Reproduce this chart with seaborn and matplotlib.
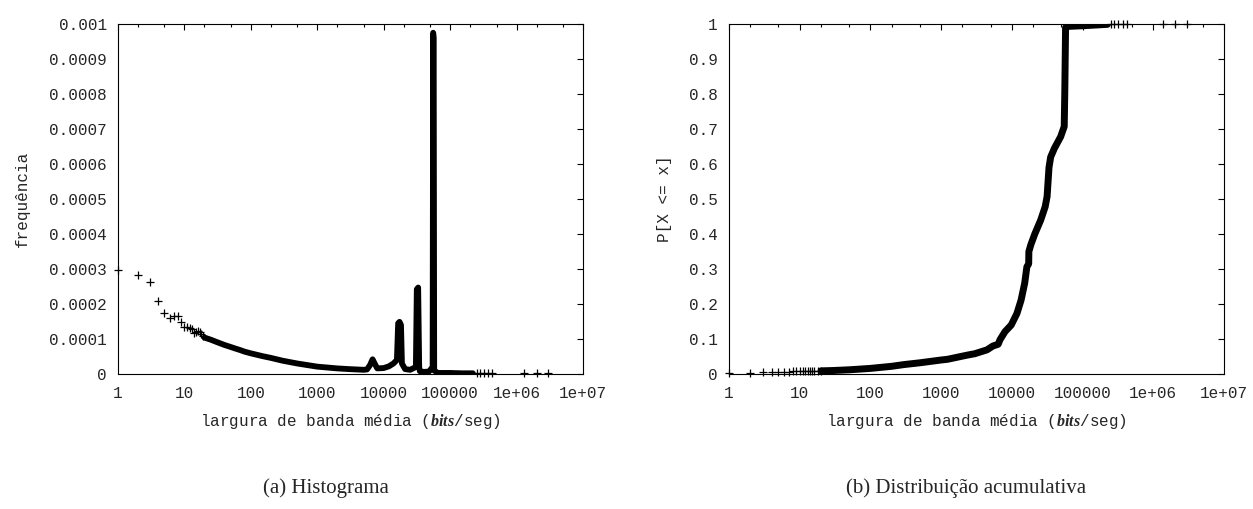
import matplotlib
matplotlib.use("Agg")
import matplotlib.pyplot as plt
import seaborn as sns
from matplotlib.ticker import LogLocator, FixedLocator, FixedFormatter, NullFormatter

# ---------------- data ----------------
# Histogram: isolated points at low rates
hist_lo_x = [1, 2, 3, 4, 5, 6, 7, 8, 9, 10, 11, 12, 13, 14, 15, 16, 17, 18, 19]
hist_lo_y = [0.000297, 0.000283, 0.000264, 0.000210, 0.000173, 0.000161, 0.000166,
             0.000166, 0.000150, 0.000133, 0.000133, 0.000131, 0.000130, 0.000118,
             0.000120, 0.000122, 0.000120, 0.000115, 0.000110]

# Histogram: dense band of points (rate, frequency)
hist_band_x = [20, 25, 30, 40, 50, 60, 70, 80, 100, 150, 200, 300, 500, 1000, 2000,
               3000, 5000, 5600, 6200, 6800, 7300, 8000, 10000, 12000, 14000, 15800,
               16500, 17300, 18200, 18800, 21000, 25000, 30500, 31500, 33000, 34200,
               35000, 40000, 48000, 54500, 55500, 56500, 57500, 65000, 100000, 150000,
               220000]
hist_band_y = [0.000104, 0.000098, 0.000092, 0.000083, 0.000077, 0.000072, 0.000068,
               0.000064, 0.000059, 0.000051, 0.000046, 0.000038, 0.000030, 0.000021,
               0.000016, 0.000014, 0.000012, 0.000013, 0.000025, 0.000042, 0.000030,
               0.000016, 0.000017, 0.000022, 0.000030, 0.000040, 0.000145, 0.000149,
               0.000140, 0.000030, 0.000014, 0.000012, 0.000020, 0.000242, 0.000247,
               0.000020, 0.000008, 0.000006, 0.000007, 0.000020, 0.000975, 0.000960,
               0.000010, 0.000003, 0.000003, 0.000002, 0.000002]

# Histogram: isolated points at high rates
hist_hi_x = [250000, 280000, 320000, 370000, 420000, 1300000, 2000000, 3000000]
hist_hi_y = [0.000002, 0.000002, 0.000002, 0.000002, 0.000002, 0.000002, 0.000002, 0.000002]

# Cumulative distribution: isolated low-rate points
cdf_lo_x = [1, 2, 3, 4, 5, 6, 7, 8, 9, 10, 11, 12, 13, 14, 15, 16, 18, 20]
cdf_lo_y = [0.003, 0.004, 0.005, 0.0055, 0.006, 0.0065, 0.007, 0.0072, 0.0075, 0.0078,
            0.008, 0.0082, 0.0084, 0.0086, 0.0088, 0.009, 0.0092, 0.0095]

# Cumulative distribution: continuous part
cdf_x = [20, 30, 50, 100, 200, 300, 500, 1000, 1230, 2350, 3000, 4450, 5400, 6400,
         6800, 8000, 9800, 11800, 13500, 15200, 16300, 17300, 17400, 18600, 21100,
         25600, 29600, 31500, 33500, 35400, 40000, 49000, 55000, 56000, 57500, 60000,
         100000, 150000, 225000]
cdf_y = [0.009, 0.010, 0.012, 0.016, 0.022, 0.027, 0.032, 0.040, 0.042, 0.054, 0.058,
         0.069, 0.080, 0.085, 0.098, 0.121, 0.140, 0.173, 0.211, 0.260, 0.306, 0.315,
         0.350, 0.370, 0.400, 0.440, 0.478, 0.507, 0.590, 0.620, 0.645, 0.678, 0.707,
         0.800, 0.990, 0.993, 0.995, 0.997, 0.999]

# Cumulative distribution: isolated high-rate points
cdf_hi_x = [250000, 280000, 320000, 370000, 420000, 1350000, 2000000, 3000000]
cdf_hi_y = [1.0, 1.0, 1.0, 1.0, 1.0, 1.0, 1.0, 1.0]

x_ticks = [1, 10, 100, 1000, 10000, 100000, 1e6, 1e7]
x_tick_labels = ["1", "10", "100", "1000", "10000", "100000", "1e+06", "1e+07"]
hist_ticks = [0, 0.0001, 0.0002, 0.0003, 0.0004, 0.0005, 0.0006, 0.0007, 0.0008, 0.0009, 0.001]
hist_tick_labels = ["0", "0.0001", "0.0002", "0.0003", "0.0004", "0.0005", "0.0006",
                    "0.0007", "0.0008", "0.0009", "0.001"]
cdf_ticks = [0, 0.1, 0.2, 0.3, 0.4, 0.5, 0.6, 0.7, 0.8, 0.9, 1]
cdf_tick_labels = ["0", "0.1", "0.2", "0.3", "0.4", "0.5", "0.6", "0.7", "0.8", "0.9", "1"]

xlabel_text = r"largura de banda média ($\mathit{bits}$/seg)"

# ---------------- style ----------------
sns.set_theme(style="white")
plt.rcParams["font.family"] = ["Liberation Mono", "DejaVu Sans Mono"]
plt.rcParams["mathtext.fontset"] = "custom"
plt.rcParams["mathtext.it"] = "Liberation Serif:italic:bold"
plt.rcParams["axes.edgecolor"] = "black"
plt.rcParams["axes.linewidth"] = 0.8

FS = 11.5
fig = plt.figure(figsize=(12.53, 5.09), dpi=100)
fig.patch.set_facecolor("white")

ax1 = fig.add_axes([118 / 1253, 135 / 509, 465 / 1253, 350 / 509])
ax2 = fig.add_axes([729 / 1253, 135 / 509, 495 / 1253, 350 / 509])

mk = dict(marker="+", s=30, color="black", linewidth=0.9, clip_on=False, zorder=3)

# (a) histogram
sns.lineplot(x=hist_band_x, y=hist_band_y, ax=ax1, sort=False, estimator=None,
             color="black", linewidth=4.2, zorder=2)
sns.scatterplot(x=hist_lo_x, y=hist_lo_y, ax=ax1, **mk)
sns.scatterplot(x=hist_hi_x, y=hist_hi_y, ax=ax1, **mk)

# (b) cumulative distribution
sns.lineplot(x=cdf_x, y=cdf_y, ax=ax2, sort=False, estimator=None,
             color="black", linewidth=5.0, zorder=2)
sns.scatterplot(x=cdf_lo_x, y=cdf_lo_y, ax=ax2, **mk)
sns.scatterplot(x=cdf_hi_x, y=cdf_hi_y, ax=ax2, **mk)


def style_axis(ax, yticks, ylabels, ylabel, ylabel_x):
    ax.set_xscale("log")
    ax.set_xlim(1, 1e7)
    ax.set_ylim(yticks[0], yticks[-1])
    ax.xaxis.set_major_locator(FixedLocator(x_ticks))
    ax.xaxis.set_major_formatter(FixedFormatter(x_tick_labels))
    ax.xaxis.set_minor_locator(LogLocator(base=10, subs=[2, 5], numticks=20))
    ax.xaxis.set_minor_formatter(NullFormatter())
    ax.yaxis.set_major_locator(FixedLocator(yticks))
    ax.yaxis.set_major_formatter(FixedFormatter(ylabels))
    ax.tick_params(which="both", direction="in", top=True, right=True,
                   color="black", width=0.8)
    ax.tick_params(which="major", length=4.3)
    ax.tick_params(which="minor", length=2.2)
    ax.tick_params(axis="x", which="major", pad=9, labelsize=FS)
    ax.tick_params(axis="y", which="major", pad=8, labelsize=FS)
    for s in ax.spines.values():
        s.set_visible(True)
        s.set_color("black")
        s.set_linewidth(0.8)
    ax.set_xlabel(xlabel_text, fontsize=FS)
    ax.xaxis.set_label_coords(0.5, -0.135)
    ax.xaxis.label.set_va("center")
    ax.set_ylabel(ylabel, fontsize=FS)
    ax.yaxis.set_label_coords(ylabel_x, 0.5)
    ax.yaxis.label.set_va("center")
    ax.grid(False)


style_axis(ax1, hist_ticks, hist_tick_labels, "frequência", (22 - 118) / 465)
style_axis(ax2, cdf_ticks, cdf_tick_labels, "P[X <= x]", (665 - 729) / 495)

cap_font = dict(family=["Liberation Serif", "DejaVu Serif"], fontsize=15,
                ha="center", va="center")
fig.text(326 / 1253, 1 - 488 / 509, "(a) Histograma", **cap_font)
fig.text(966 / 1253, 1 - 488 / 509, "(b) Distribuição acumulativa", **cap_font)

fig.savefig("out.png", dpi=100, facecolor="white")
